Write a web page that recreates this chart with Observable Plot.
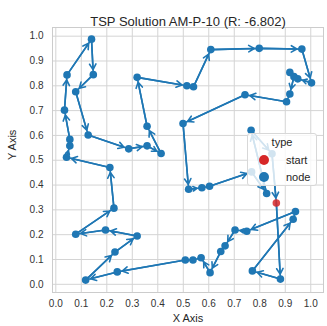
<!DOCTYPE html>
<html><head><meta charset="utf-8">
<script src="https://cdn.jsdelivr.net/npm/d3@7"></script>
<script src="https://cdn.jsdelivr.net/npm/@observablehq/plot@0.6"></script>
<style>
body{margin:0;background:#fff;font-family:"Liberation Sans",Arial,sans-serif;}
#wrap{position:relative;width:327px;height:326px;}
#legend{position:absolute;left:247px;top:133px;width:70px;height:53px;background:rgba(255,255,255,0.8);border:1px solid #d8d8d8;border-radius:3px;box-sizing:border-box;font-size:11px;color:#262626;}
#legend .t{position:absolute;left:0;width:68px;top:2px;text-align:center;padding-left:0px;}
#legend .row{position:absolute;left:0;height:14px;width:68px;}
#legend .dot{position:absolute;left:11px;top:2px;width:10px;height:10px;border-radius:50%;}
#legend .lab{position:absolute;left:38px;top:0px;line-height:14px;}
</style></head><body><div id="wrap"></div>
<script>
const title = "TSP Solution AM-P-10 (R: -6.802)";
const xLabel = "X Axis";
const yLabel = "Y Axis";
// tour order, first node is the start
const tourX = [0.865,0.881,0.771,0.931,0.940,0.749,0.703,0.664,0.647,0.605,0.570,0.538,0.508,0.241,0.117,0.232,0.319,0.195,0.078,0.228,0.212,0.042,0.055,0.055,0.034,0.044,0.140,0.147,0.078,0.127,0.286,0.358,0.413,0.358,0.319,0.514,0.540,0.608,0.798,0.965,1.003,0.949,0.918,0.934,0.918,0.905,0.742,0.499,0.521,0.573,0.603,0.768,0.827,0.766,0.848];
const tourY = [0.328,0.021,0.054,0.262,0.293,0.214,0.219,0.155,0.132,0.047,0.107,0.098,0.098,0.050,0.017,0.130,0.195,0.219,0.202,0.307,0.471,0.512,0.558,0.584,0.702,0.844,0.988,0.845,0.776,0.602,0.546,0.558,0.527,0.637,0.834,0.800,0.796,0.946,0.951,0.948,0.812,0.828,0.854,0.837,0.767,0.736,0.764,0.648,0.383,0.389,0.395,0.453,0.366,0.621,0.526];
const xTicks = [0.0,0.1,0.2,0.3,0.4,0.5,0.6,0.7,0.8,0.9,1.0];
const yTicks = [0.0,0.1,0.2,0.3,0.4,0.5,0.6,0.7,0.8,0.9,1.0];
const legendTitle = "type";
const legendLabels = ["start","node"];
const legendColors = ["#d62728","#1f77b4"];

const nodes = tourX.map((x,i)=>({x, y: tourY[i], type: i===0 ? "start" : "node"}));
const path = nodes.concat([nodes[0]]);
const segs = nodes.map((d,i)=>{const n = nodes[(i+1)%nodes.length]; return {x1:d.x,y1:d.y,x2:n.x,y2:n.y};});
const blue = legendColors[1], red = legendColors[0];

const chart = Plot.plot({
  width: 327, height: 326,
  marginLeft: 52, marginRight: 4, marginTop: 27, marginBottom: 34,
  style: {fontFamily: '"Liberation Sans", Arial, sans-serif', fontSize: "10px", color: "#262626", background: "#fff"},
  x: {domain: [-0.013, 1.05]},
  y: {domain: [-0.033, 1.035]},
  marks: [
    Plot.gridX(xTicks, {stroke: "#d4d4d4", strokeOpacity: 1, strokeWidth: 1}),
    Plot.gridY(yTicks, {stroke: "#d4d4d4", strokeOpacity: 1, strokeWidth: 1}),
    Plot.frame({stroke: "#cccccc"}),
    Plot.axisX(xTicks, {tickSize: 0, tickPadding: 7, tickFormat: d3.format(".1f"), label: null, fill: "#333"}),
    Plot.axisY(yTicks, {tickSize: 0, tickPadding: 9, tickFormat: d3.format(".1f"), label: null, fill: "#333"}),
    Plot.line(path, {x: "x", y: "y", stroke: blue, strokeWidth: 1.6}),
    Plot.arrow(segs, {x1: "x1", y1: "y1", x2: "x2", y2: "y2", stroke: blue, strokeWidth: 1.6, headLength: 6, insetEnd: 5}),
    Plot.dot(nodes.filter(d=>d.type==="node"), {x: "x", y: "y", r: 3.8, fill: blue}),
    Plot.dot(nodes.filter(d=>d.type==="start"), {x: "x", y: "y", r: 3.8, fill: red, fillOpacity: 0.85}),
    Plot.text([title], {frameAnchor: "top", dy: -11, fontSize: 13, fill: "#262626"}),
    Plot.text([xLabel], {frameAnchor: "bottom", dy: 29, fontSize: 11, fill: "#262626"}),
    Plot.text([yLabel], {frameAnchor: "left", dx: -40, rotate: -90, fontSize: 11, fill: "#262626"})
  ]
});
const wrap = document.getElementById("wrap");
wrap.appendChild(chart);
const lg = document.createElement("div");
lg.id = "legend";
let html = `<div class="t">${legendTitle}</div>`;
legendLabels.forEach((l,i)=>{
  html += `<div class="row" style="top:${19+i*17}px"><span class="dot" style="background:${legendColors[i]}"></span><span class="lab">${l}</span></div>`;
});
lg.innerHTML = html;
wrap.appendChild(lg);
</script></body></html>
